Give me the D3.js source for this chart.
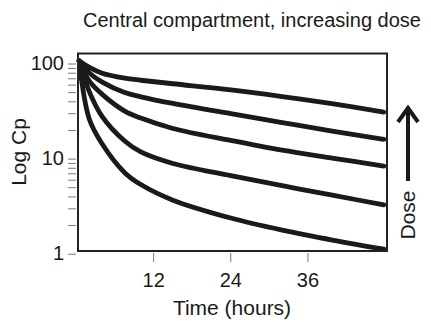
<!DOCTYPE html>
<html>
<head>
<meta charset="utf-8">
<script src="https://cdn.jsdelivr.net/npm/d3@7/dist/d3.min.js"></script>
<style>
  body { margin: 0; background: #fff; }
  text { font-family: "Liberation Sans", Arial, Helvetica, sans-serif; fill: #1a1a1a; }
</style>
</head>
<body>
<script>
// sampling times (hours), shared by every curve
var times = [0.4, 2, 4, 7.5, 10, 15, 24, 32, 40, 47.8];

// plasma concentration per dose, highest dose first
var doseA = [108, 92, 80, 71, 67.5, 62, 53.5, 45.5, 38, 31.2],
    doseB = [108, 80.4, 64.5, 50.1, 45.2, 38.5, 30, 24.2, 19.6, 16.1],
    doseC = [108, 66, 48, 32, 27, 21, 15.7, 12.4, 10.2, 8.45],
    doseD = [108, 51, 28, 15.5, 11.9, 9.0, 6.7, 5.25, 4.15, 3.3],
    doseE = [108, 26.2, 14.4, 7.2, 5.4, 3.7, 2.4, 1.79, 1.4, 1.13];

var series = [doseA, doseB, doseC, doseD, doseE];

var xTicks = [12, 24, 36],
    yLabels = [1, 10, 100],
    yMinor = [2, 3, 4, 5, 6, 7, 8, 9, 20, 30, 40, 50, 60, 70, 80, 90];

var W = 431, H = 324;
var plot = {left: 78, right: 387, top: 53.5, bottom: 251};

var svg = d3.select("body").append("svg")
    .attr("width", W)
    .attr("height", H);

var x = d3.scaleLinear().domain([0, 48.3]).range([76.5, plot.right]),
    y = d3.scaleLog().domain([1.08, 129]).range([plot.bottom, plot.top]);

// y ticks (outside, left of the frame)
svg.append("g")
    .selectAll("line")
    .data(yLabels.concat(yMinor))
    .enter().append("line")
    .attr("x1", plot.left - 10)
    .attr("x2", plot.left - 2)
    .attr("y1", d => y(d))
    .attr("y2", d => y(d))
    .attr("stroke", "#777")
    .attr("stroke-width", 1);

svg.append("g")
    .selectAll("text")
    .data(yLabels)
    .enter().append("text")
    .attr("x", 64)
    .attr("y", d => y(d))
    .attr("dy", "0.3em")
    .attr("text-anchor", "end")
    .attr("font-size", 20)
    .text(d => d);

// x ticks (below the frame)
svg.append("g")
    .selectAll("line")
    .data(xTicks)
    .enter().append("line")
    .attr("x1", d => x(d))
    .attr("x2", d => x(d))
    .attr("y1", plot.bottom + 2)
    .attr("y2", plot.bottom + 11)
    .attr("stroke", "#777")
    .attr("stroke-width", 1);

svg.append("g")
    .selectAll("text")
    .data(xTicks)
    .enter().append("text")
    .attr("x", d => x(d))
    .attr("y", 287)
    .attr("text-anchor", "middle")
    .attr("font-size", 20)
    .text(d => d);

// curves
var line = d3.line()
    .x((d, i) => x(times[i]))
    .y(d => y(d))
    .curve(d3.curveCatmullRom.alpha(0.5));

svg.append("g")
    .selectAll("path")
    .data(series)
    .enter().append("path")
    .attr("d", line)
    .attr("fill", "none")
    .attr("stroke", "#1a1a1a")
    .attr("stroke-width", 4.8)
    .attr("stroke-linecap", "round");

// frame
svg.append("rect")
    .attr("x", plot.left)
    .attr("y", plot.top)
    .attr("width", plot.right - plot.left)
    .attr("height", plot.bottom - plot.top)
    .attr("fill", "none")
    .attr("stroke", "#222")
    .attr("stroke-width", 2);

// titles
svg.append("text")
    .attr("x", 252)
    .attr("y", 27)
    .attr("text-anchor", "middle")
    .attr("font-size", 20)
    .text("Central compartment, increasing dose");

svg.append("text")
    .attr("x", 232)
    .attr("y", 315)
    .attr("text-anchor", "middle")
    .attr("font-size", 21)
    .text("Time (hours)");

svg.append("text")
    .attr("transform", "translate(25.5,152) rotate(-90)")
    .attr("text-anchor", "middle")
    .attr("font-size", 21)
    .text("Log Cp");

svg.append("text")
    .attr("transform", "translate(415,215) rotate(-90)")
    .attr("text-anchor", "middle")
    .attr("font-size", 21)
    .text("Dose");

// dose arrow
var arrow = svg.append("g")
    .attr("stroke", "#1a1a1a")
    .attr("stroke-width", 4)
    .attr("fill", "none");
arrow.append("line")
    .attr("x1", 408).attr("x2", 408)
    .attr("y1", 181).attr("y2", 109);
arrow.append("polyline")
    .attr("points", "398,122 408,108 418,122")
    .attr("stroke-linejoin", "miter");
</script>
</body>
</html>
